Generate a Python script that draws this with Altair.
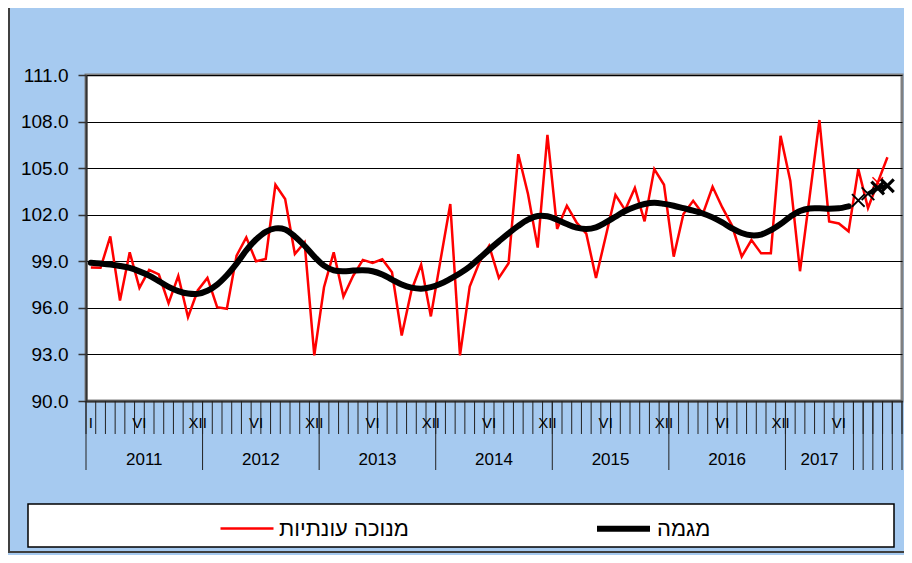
import altair as alt
import pandas as pd

FONT = "Liberation Sans, Arial, DejaVu Sans, sans-serif"
SERIES = ["מנוכה עונתיות", "מגמה"]
SERIES_COLORS = ["#FF0000", "#000000"]
SERIES_WIDTHS = [2.5, 6]

YEARS = ["2011", "2012", "2013", "2014", "2015", "2016", "2017"]
YEAR_START = [0, 12, 24, 36, 48, 60, 72]
YEAR_END = [12, 24, 36, 48, 60, 72, 79]
EXTRA_SEPARATORS = [80, 81, 82, 83, 84]
N_MONTHS = 84

MONTH_LABEL_POS = [0, 5, 11, 17, 23, 29, 35, 41, 47, 53, 59, 65, 71, 77]
MONTH_LABEL_TXT = ["I", "VI", "XII", "VI", "XII", "VI", "XII", "VI", "XII",
                   "VI", "XII", "VI", "XII", "VI"]

# seasonally adjusted (Jan 2011 - Nov 2017)
ADJUSTED = [
    98.6, 98.58, 100.6, 96.47, 99.58, 97.29, 98.45, 98.15, 96.3, 98.06, 95.4, 97.12,
    97.93, 96.04, 95.94, 99.37, 100.54, 99.0, 99.15, 103.93, 103.01, 99.47, 100.22, 92.94,
    97.33, 99.58, 96.73, 98.07, 99.09, 98.9, 99.13, 98.29, 94.22, 97.12, 98.79, 95.45,
    99.1, 102.69, 92.94, 97.37, 98.94, 100.0, 97.93, 98.87, 105.9, 103.33, 99.88, 107.15,
    101.08, 102.58, 101.5, 100.78, 97.93, 100.6, 103.28, 102.3, 103.72, 101.57, 104.94, 103.93,
    99.3, 102.05, 102.9, 102.05, 103.8, 102.47, 101.3, 99.3, 100.37, 99.51, 99.51, 107.08,
    104.19, 98.36, 103.2, 108.1, 101.57, 101.44, 100.93, 104.94, 102.43, 104.07, 105.7,
]
ADJ_MARK_IDX = [81]

# trend (Jan 2011 - Jul 2017)
TREND = [
    98.9, 98.85, 98.79, 98.7, 98.57, 98.35, 98.08, 97.72, 97.35, 97.08, 96.92, 96.9,
    97.1, 97.5, 98.1, 98.85, 99.7, 100.4, 100.9, 101.12, 101.05, 100.6, 100.0, 99.3,
    98.72, 98.42, 98.36, 98.4, 98.42, 98.36, 98.15, 97.82, 97.5, 97.3, 97.23, 97.33,
    97.55, 97.87, 98.23, 98.66, 99.2, 99.75, 100.28, 100.8, 101.28, 101.68, 101.92, 101.9,
    101.68, 101.4, 101.17, 101.08, 101.19, 101.5, 101.87, 102.24, 102.5, 102.69, 102.77, 102.7,
    102.58, 102.42, 102.26, 102.08, 101.83, 101.5, 101.12, 100.82, 100.67, 100.72, 101.0, 101.4,
    101.87, 102.24, 102.4, 102.41, 102.38, 102.41, 102.54,
]
# trend estimates (Aug - Nov 2017)
TREND_EST_IDX = [79, 80, 81, 82]
TREND_EST = [102.92, 103.35, 103.72, 103.87]

Y_TICKS = [90, 93, 96, 99, 102, 105, 108, 111]

W, H = 816, 326

xscale = alt.Scale(domain=[0, N_MONTHS], nice=False, zero=False)
yscale = alt.Scale(domain=[90, 111], nice=False, zero=False)
xaxis = alt.Axis(labels=False, ticks=False, grid=False, domainColor="#333333",
                 domainWidth=2, title=None)
yaxis = alt.Axis(values=Y_TICKS, format=".1f", labelFontSize=19, labelColor="#000000",
                 labelFont=FONT, tickSize=8, tickColor="#333333", tickWidth=1.5,
                 domainColor="#333333", domainWidth=2, grid=True, gridColor="#000000",
                 gridWidth=1, labelPadding=10, title=None)

color_scale = alt.Scale(domain=SERIES, range=SERIES_COLORS)
width_scale = alt.Scale(domain=SERIES, range=SERIES_WIDTHS)
legend = alt.Legend(orient="none", legendX=133, legendY=424, direction="horizontal",
                    title=None, symbolType="stroke", symbolSize=2809, labelFontSize=22,
                    labelFont=FONT, labelColor="#000000", labelOffset=4,
                    columnPadding=176, padding=0, symbolStrokeColor="#000000")

df_adj = pd.DataFrame({"pos": [i + 0.5 for i in range(len(ADJUSTED))],
                       "value": ADJUSTED, "series": SERIES[0]})
df_trend = pd.DataFrame({"pos": [i + 0.5 for i in range(len(TREND))],
                         "value": TREND, "series": SERIES[1]})
df_est = pd.DataFrame({"pos": [i + 0.5 for i in TREND_EST_IDX], "value": TREND_EST,
                       "bold": [False, False, True, True]})
df_adj_mark = pd.DataFrame({"pos": [i + 0.5 for i in ADJ_MARK_IDX],
                            "value": [ADJUSTED[i] for i in ADJ_MARK_IDX]})

df_ticks = pd.DataFrame({"pos": list(range(N_MONTHS + 1))})
df_sep = pd.DataFrame({"pos": YEAR_START + [YEAR_END[-1]] + EXTRA_SEPARATORS})
df_mlab = pd.DataFrame({"pos": [p + 0.5 for p in MONTH_LABEL_POS], "label": MONTH_LABEL_TXT})
df_ylab = pd.DataFrame({"pos": [(s + e) / 2 for s, e in zip(YEAR_START, YEAR_END)],
                        "label": YEARS})
one = pd.DataFrame({"a": [0]})

X = lambda: alt.X("pos:Q", scale=xscale, axis=xaxis)
Y = lambda: alt.Y("value:Q", scale=yscale, axis=yaxis)

frame_left = alt.Chart(one).mark_rule(color="#404040", strokeWidth=2).encode(
    x=alt.value(-77), y=alt.value(-67), y2=alt.value(478))
frame_bottom = alt.Chart(one).mark_rule(color="#404040", strokeWidth=2).encode(
    x=alt.value(-78), x2=alt.value(W + 2), y=alt.value(477))

legend_box = alt.Chart(one).mark_rect(fill="#FFFFFF", stroke="#000000", strokeWidth=1.5).encode(
    x=alt.value(-58), x2=alt.value(808), y=alt.value(429), y2=alt.value(472))

adj_line = alt.Chart(df_adj).mark_line(interpolate="linear").encode(
    x=X(), y=Y(),
    color=alt.Color("series:N", scale=color_scale, legend=legend),
    strokeWidth=alt.StrokeWidth("series:N", scale=width_scale, legend=legend))

trend_line = alt.Chart(df_trend).mark_line(interpolate="catmull-rom", strokeCap="round").encode(
    x=X(), y=Y(),
    color=alt.Color("series:N", scale=color_scale, legend=legend),
    strokeWidth=alt.StrokeWidth("series:N", scale=width_scale, legend=legend))

xshape = "M-1,-1L1,1M-1,1L1,-1"
adj_mark = alt.Chart(df_adj_mark).mark_point(shape=xshape, filled=False, color="#FF0000",
                                             strokeWidth=1.5, size=110, opacity=1).encode(
    x=X(), y=Y())

est_line = alt.Chart(df_est[df_est["pos"] > 80]).mark_line(color="#000000", strokeWidth=4).encode(
    x=X(), y=Y())
est_thin = alt.Chart(df_est[~df_est["bold"]]).mark_point(
    shape=xshape, filled=False, color="#000000", strokeWidth=1.8, size=160, opacity=1).encode(
    x=X(), y=Y())
est_bold = alt.Chart(df_est[df_est["bold"]]).mark_point(
    shape=xshape, filled=False, color="#000000", strokeWidth=3.2, size=160, opacity=1).encode(
    x=X(), y=Y())

ticks = alt.Chart(df_ticks).mark_rule(color="#222222", strokeWidth=1).encode(
    x=X(), y=alt.value(H), y2=alt.value(H + 33))
seps = alt.Chart(df_sep).mark_rule(color="#222222", strokeWidth=1).encode(
    x=X(), y=alt.value(H), y2=alt.value(H + 69))
mlabels = alt.Chart(df_mlab).mark_text(font=FONT, fontSize=15, color="#000000",
                                       baseline="middle", align="center").encode(
    x=X(), y=alt.value(H + 22), text="label:N")
ylabels = alt.Chart(df_ylab).mark_text(font=FONT, fontSize=17, color="#000000",
                                       baseline="middle", align="center").encode(
    x=X(), y=alt.value(H + 59), text="label:N")

chart = alt.layer(
    frame_left, frame_bottom, legend_box, adj_line, adj_mark, trend_line,
    est_line, est_thin, est_bold, ticks, seps, mlabels, ylabels
).properties(
    width=W, height=H,
    autosize=alt.AutoSizeParams(type="none"),
    padding={"left": 78, "top": 67, "right": 2, "bottom": 154},
    background="#A6CAF0",
).configure_view(
    fill="#FFFFFF", stroke="#808080", strokeWidth=3
)

chart.save("out.html", embed_options={"renderer": "svg", "actions": False})
